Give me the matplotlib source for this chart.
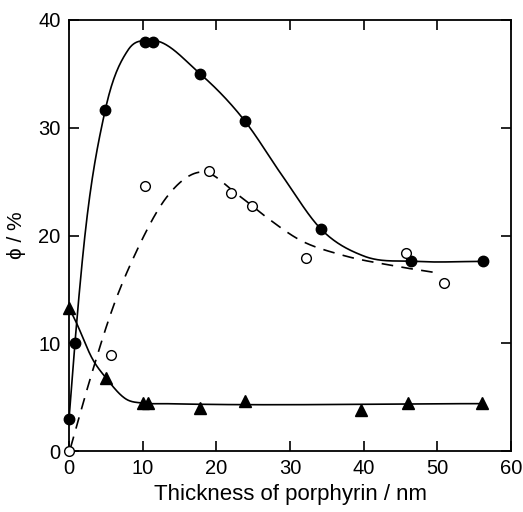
import numpy as np
import matplotlib
matplotlib.use("Agg")
import matplotlib.pyplot as plt

plt.rcParams['font.family'] = ['Liberation Sans', 'DejaVu Sans']

# measured data points
filled_x = [0, 0.8, 4.9, 10.3, 11.4, 17.8, 23.9, 34.2, 46.4, 56.2]
filled_y = [3.0, 10.0, 31.6, 38.0, 38.0, 35.0, 30.6, 20.6, 17.6, 17.6]

open_x = [0, 5.7, 10.3, 19.0, 22.0, 24.8, 32.2, 45.7, 50.9]
open_y = [0.0, 8.9, 24.6, 26.0, 23.9, 22.7, 17.9, 18.4, 15.6]

tri_x = [0, 5.0, 10.0, 10.7, 17.8, 23.9, 39.6, 46.0, 56.0]
tri_y = [13.3, 6.8, 4.45, 4.45, 4.0, 4.6, 3.8, 4.5, 4.5]

# guide curves (knots)
solid_kx = [0, 0.8, 2.0, 4.9, 8.0, 11.0, 17.8, 23.9, 29.0, 34.2, 40.0, 47.0, 56.2]
solid_ky = [3.0, 10.0, 19.0, 31.6, 37.2, 38.1, 35.0, 30.6, 25.5, 20.6, 18.1, 17.6, 17.6]

dash_kx = [0.2, 3.0, 6.0, 9.2, 13.3, 18.2, 22.7, 26.8, 31.3, 37.0, 44.0, 50.3]
dash_ky = [0.3, 7.0, 13.4, 18.6, 23.6, 25.9, 23.9, 21.7, 19.6, 18.2, 17.2, 16.5]

tri_kx = [0, 0.8, 3.3, 5.0, 7.8, 10.0, 13.0, 56.2]
tri_ky = [13.3, 12.2, 8.4, 6.8, 4.8, 4.45, 4.4, 4.4]


def smooth(xk, yk, n=500):
    xk = np.asarray(xk, float)
    yk = np.asarray(yk, float)
    h = np.diff(xk)
    d = np.diff(yk) / h
    m = np.zeros_like(xk)
    for i in range(1, len(xk) - 1):
        m[i] = (h[i] * d[i - 1] + h[i - 1] * d[i]) / (h[i - 1] + h[i])
    m[0] = d[0]
    m[-1] = d[-1]
    xs = np.linspace(xk[0], xk[-1], n)
    idx = np.clip(np.searchsorted(xk, xs) - 1, 0, len(h) - 1)
    t = (xs - xk[idx]) / h[idx]
    h00 = 2 * t**3 - 3 * t**2 + 1
    h10 = t**3 - 2 * t**2 + t
    h01 = -2 * t**3 + 3 * t**2
    h11 = t**3 - t**2
    ys = (h00 * yk[idx] + h10 * h[idx] * m[idx] +
          h01 * yk[idx + 1] + h11 * h[idx] * m[idx + 1])
    return xs, ys


fig = plt.figure(figsize=(5.23, 5.12), dpi=100)
ax = fig.add_axes([0.132, 0.119, 0.845, 0.842])

sx, sy = smooth(solid_kx, solid_ky)
ax.plot(sx, sy, color='black', lw=1.2, zorder=2)
dx, dy = smooth(dash_kx, dash_ky)
ax.plot(dx, dy, color='black', lw=1.2, dashes=(7, 5), zorder=2)
tx, ty = smooth(tri_kx, tri_ky)
ax.plot(tx, ty, color='black', lw=1.2, zorder=2)

ax.plot(filled_x, filled_y, 'o', color='black', ms=7.5, zorder=3, clip_on=False)
ax.plot(open_x, open_y, 'o', mfc='white', mec='black', mew=1.0, ms=7, zorder=3, clip_on=False)
ax.plot(tri_x, tri_y, '^', color='black', ms=8.5, zorder=3, clip_on=False)

ax.set_xlim(0, 60)
ax.set_ylim(0, 40)
ax.set_xticks([0, 10, 20, 30, 40, 50, 60])
ax.set_yticks([0, 10, 20, 30, 40])
ax.tick_params(direction='in', length=7, width=1.2, labelsize=14.5,
               top=True, right=True, pad=6)
for s in ax.spines.values():
    s.set_linewidth(1.3)

ax.set_xlabel('Thickness of porphyrin / nm', fontsize=16, labelpad=4)
ax.set_ylabel('ϕ / %', fontsize=15, labelpad=9)

fig.savefig('out.png', dpi=100)
